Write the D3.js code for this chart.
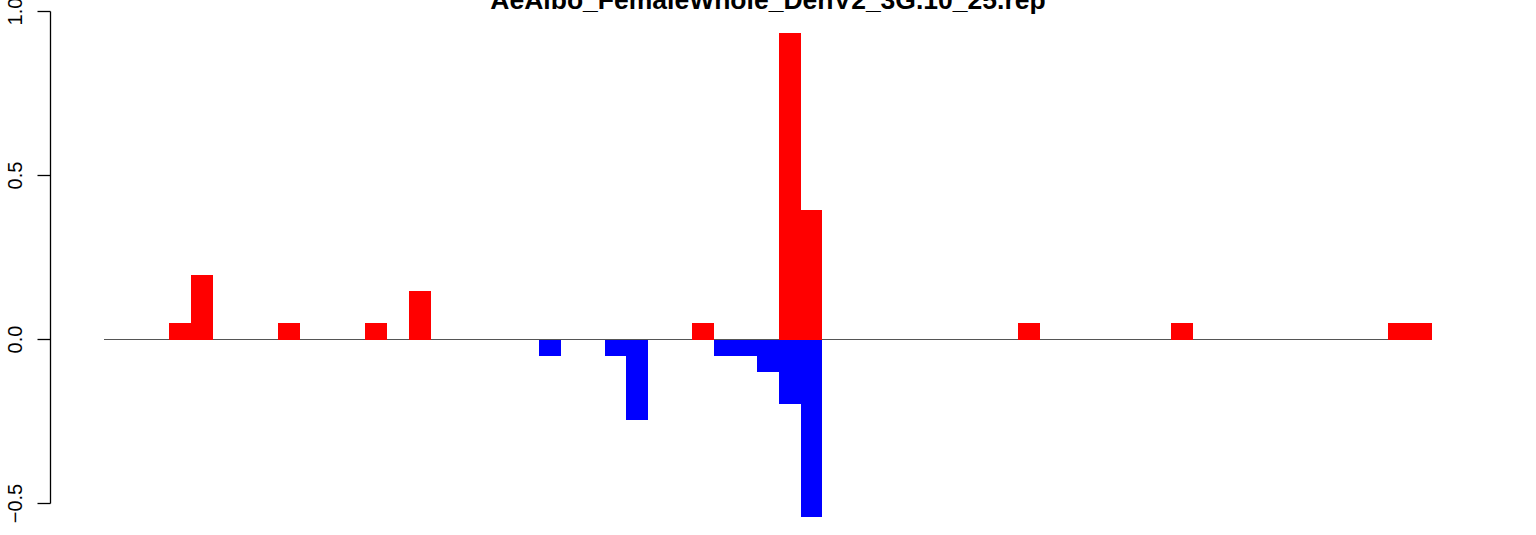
<!DOCTYPE html>
<html><head><meta charset="utf-8">
<script src="https://cdn.jsdelivr.net/npm/d3@7"></script>
<style>body{margin:0;background:#fff}svg{display:block}</style>
</head><body><svg id="c" width="1536" height="535"></svg>
<script>
const title = "AeAlbo_FemaleWhole_DenV2_3G.10_25.rep";
const positions = d3.range(61);
const upValues = [0,0,0,0.049,0.196,0,0,0,0.049,0,0,0,0.049,0,0.147,0,0,0,0,0,0,0,0,0,0,0,0,0.049,0,0,0,0.934,0.395,0,0,0,0,0,0,0,0,0,0.049,0,0,0,0,0,0,0.049,0,0,0,0,0,0,0,0,0,0.049,0.049];
const downValues = [0,0,0,0,0,0,0,0,0,0,0,0,0,0,0,0,0,0,0,0,-0.049,0,0,-0.049,-0.245,0,0,0,-0.049,-0.049,-0.098,-0.196,-0.542,0,0,0,0,0,0,0,0,0,0,0,0,0,0,0,0,0,0,0,0,0,0,0,0,0,0,0,0];
const yTicks = [-0.5, 0, 0.5, 1];
const yTickLabels = ["\u22120.5", "0.0", "0.5", "1.0"];

const svg = d3.select("#c");
const x = d3.scaleBand().domain(positions).range([104, 1432]).padding(0);
const y = d3.scaleLinear().domain([-0.5, 1]).range([503.5, 11.5]);

// baseline
svg.append("line").attr("x1", 104).attr("x2", 1432)
  .attr("y1", y(0)).attr("y2", y(0)).attr("stroke", "#555").attr("stroke-width", 1);

svg.append("g").selectAll("rect").data(positions.filter(i => upValues[i] !== 0)).join("rect")
  .attr("x", i => x(i)).attr("width", x.bandwidth())
  .attr("y", i => y(upValues[i])).attr("height", i => y(0) - y(upValues[i]))
  .attr("fill", "#ff0000").attr("shape-rendering", "crispEdges");

svg.append("g").selectAll("rect").data(positions.filter(i => downValues[i] !== 0)).join("rect")
  .attr("x", i => x(i)).attr("width", x.bandwidth())
  .attr("y", y(0)).attr("height", i => y(downValues[i]) - y(0))
  .attr("fill", "#0000ff").attr("shape-rendering", "crispEdges");

// y axis
const ax = svg.append("g").attr("transform", "translate(50.5,0)");
ax.append("line").attr("x1", 0).attr("x2", 0).attr("y1", y(-0.5)).attr("y2", y(1))
  .attr("stroke", "#000").attr("stroke-width", 1.3);
ax.selectAll(".tk").data(yTicks).join("line")
  .attr("x1", -13).attr("x2", 0).attr("y1", d => y(d)).attr("y2", d => y(d))
  .attr("stroke", "#000").attr("stroke-width", 1.3);
ax.selectAll("text").data(yTicks).join("text")
  .attr("transform", d => `translate(-29,${y(d)}) rotate(-90)`)
  .attr("text-anchor", "middle")
  .attr("font-family", "Liberation Sans, Arial, sans-serif").attr("font-size", 20)
  .text((d, i) => yTickLabels[i]);

svg.append("text").attr("x", 768).attr("y", 9).attr("text-anchor", "middle")
  .attr("font-family", "Liberation Sans, Arial, sans-serif").attr("font-weight", "bold")
  .attr("font-size", 26.5).text(title);
</script></body></html>
